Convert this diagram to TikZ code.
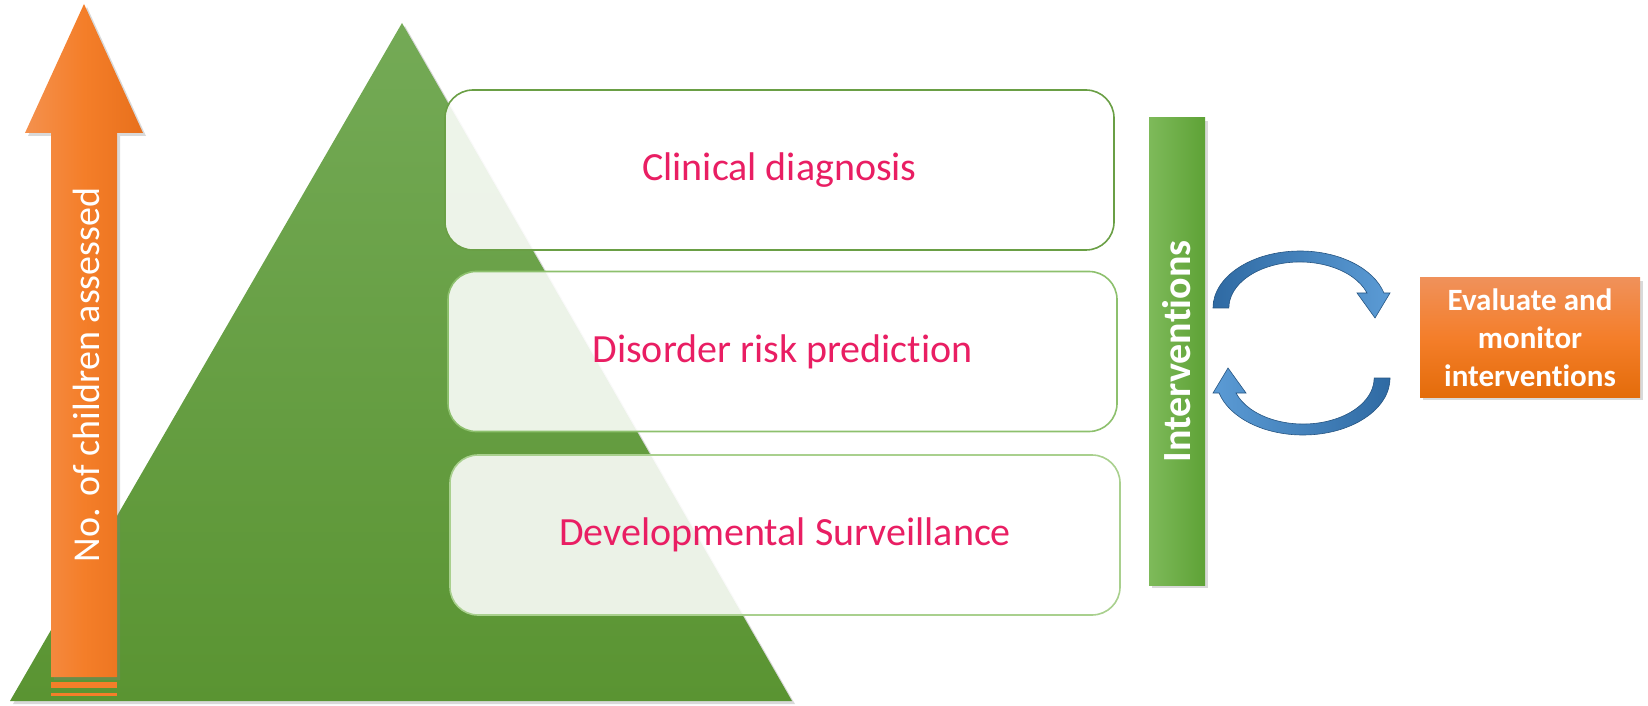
\documentclass[tikz,border=0pt]{standalone}
\usepackage{fontspec}
\setmainfont[Ligatures=NoCommon]{Carlito}
\usetikzlibrary{shadows}
\definecolor{orangeL}{HTML}{F4914E}
\definecolor{orangeM}{HTML}{F47E29}
\definecolor{orangeR}{HTML}{E8701C}
\definecolor{greenT}{HTML}{74AA56}
\definecolor{greenB}{HTML}{5A9432}
\definecolor{pinktext}{HTML}{E91E63}
\definecolor{diagline}{HTML}{6A9F45}
\definecolor{riskline}{HTML}{8DC06D}
\definecolor{survline}{HTML}{A9D08E}
\definecolor{barL}{HTML}{7EBA5A}
\definecolor{barR}{HTML}{5EA236}
\definecolor{blueD}{HTML}{2F6AA3}
\definecolor{blueL}{HTML}{5B9BD5}
\definecolor{evalT}{HTML}{F0915A}
\definecolor{evalM}{HTML}{F47E2A}
\definecolor{evalB}{HTML}{E46C0A}
\begin{document}
\begin{tikzpicture}[x=1pt, y=1pt,
    softshadow/.style={drop shadow={opacity=.3, shadow xshift=3pt, shadow yshift=-3pt}},
    stagebox/.style={line width=1.6pt, rounded corners=28pt, fill=white, fill opacity=.88,
        text opacity=1, text=pinktext, font=\fontsize{40}{48}\selectfont,
        minimum width=669pt, minimum height=160pt},
    cyclearrow/.style={draw=blueD!80!black, line width=.6pt}]
\useasboundingbox (0,0) rectangle (1648,705);
\path[top color=greenT, bottom color=greenB, softshadow] (10,4) -- (402,682) -- (792,4) -- cycle;
\path[left color=orangeL, right color=orangeR, middle color=orangeM, softshadow]
    (51,28) -- (51,572) -- (25,572) -- (84,701) -- (143,572) -- (117,572) -- (117,28) -- cycle;
\fill[orangeM] (51,17) rectangle (117,23);
\fill[orangeM] (51,9) rectangle (117,12);
\node[rotate=90, text=white, font=\fontsize{38}{44}\selectfont] (count) at (86,330) {No. of children assessed};
\node[stagebox, draw=diagline] (diag) at (779.5,535) {Clinical diagnosis};
\node[stagebox, draw=riskline] (risk) at (782.5,353.5) {Disorder risk prediction};
\node[stagebox, draw=survline, minimum width=670pt] (surv) at (785,170) {Developmental Surveillance};
\node[left color=barL, right color=barR, minimum width=56pt, minimum height=467pt, softshadow] (bar) at (1177,353.5) {};
\node[rotate=90, text=white, font=\bfseries\fontsize{40}{48}\selectfont] (barlabel) at (bar.center) {Interventions};
\node[top color=evalT, bottom color=evalB, middle color=evalM, minimum width=220pt, minimum height=119pt,
    text=white, font=\bfseries\fontsize{31}{38}\selectfont, align=center, softshadow] (eval) at (1530,367.5)
    {Evaluate and\\monitor\\interventions};
\path[cyclearrow, left color=blueD, right color=blueL] (1213,397)
    arc[start angle=180, end angle=15.3, x radius=87, y radius=57] -- (1390,412) -- (1375,387)
    -- (1357,412) -- (1367,412) arc[start angle=19, end angle=180, x radius=71, y radius=46] -- cycle;
\path[cyclearrow, left color=blueL, right color=blueD] (1390,327)
    arc[start angle=360, end angle=195.3, x radius=87, y radius=57] -- (1213,312) -- (1228,337)
    -- (1246,312) -- (1236,312) arc[start angle=199, end angle=360, x radius=71, y radius=46] -- cycle;
\end{tikzpicture}
\end{document}
